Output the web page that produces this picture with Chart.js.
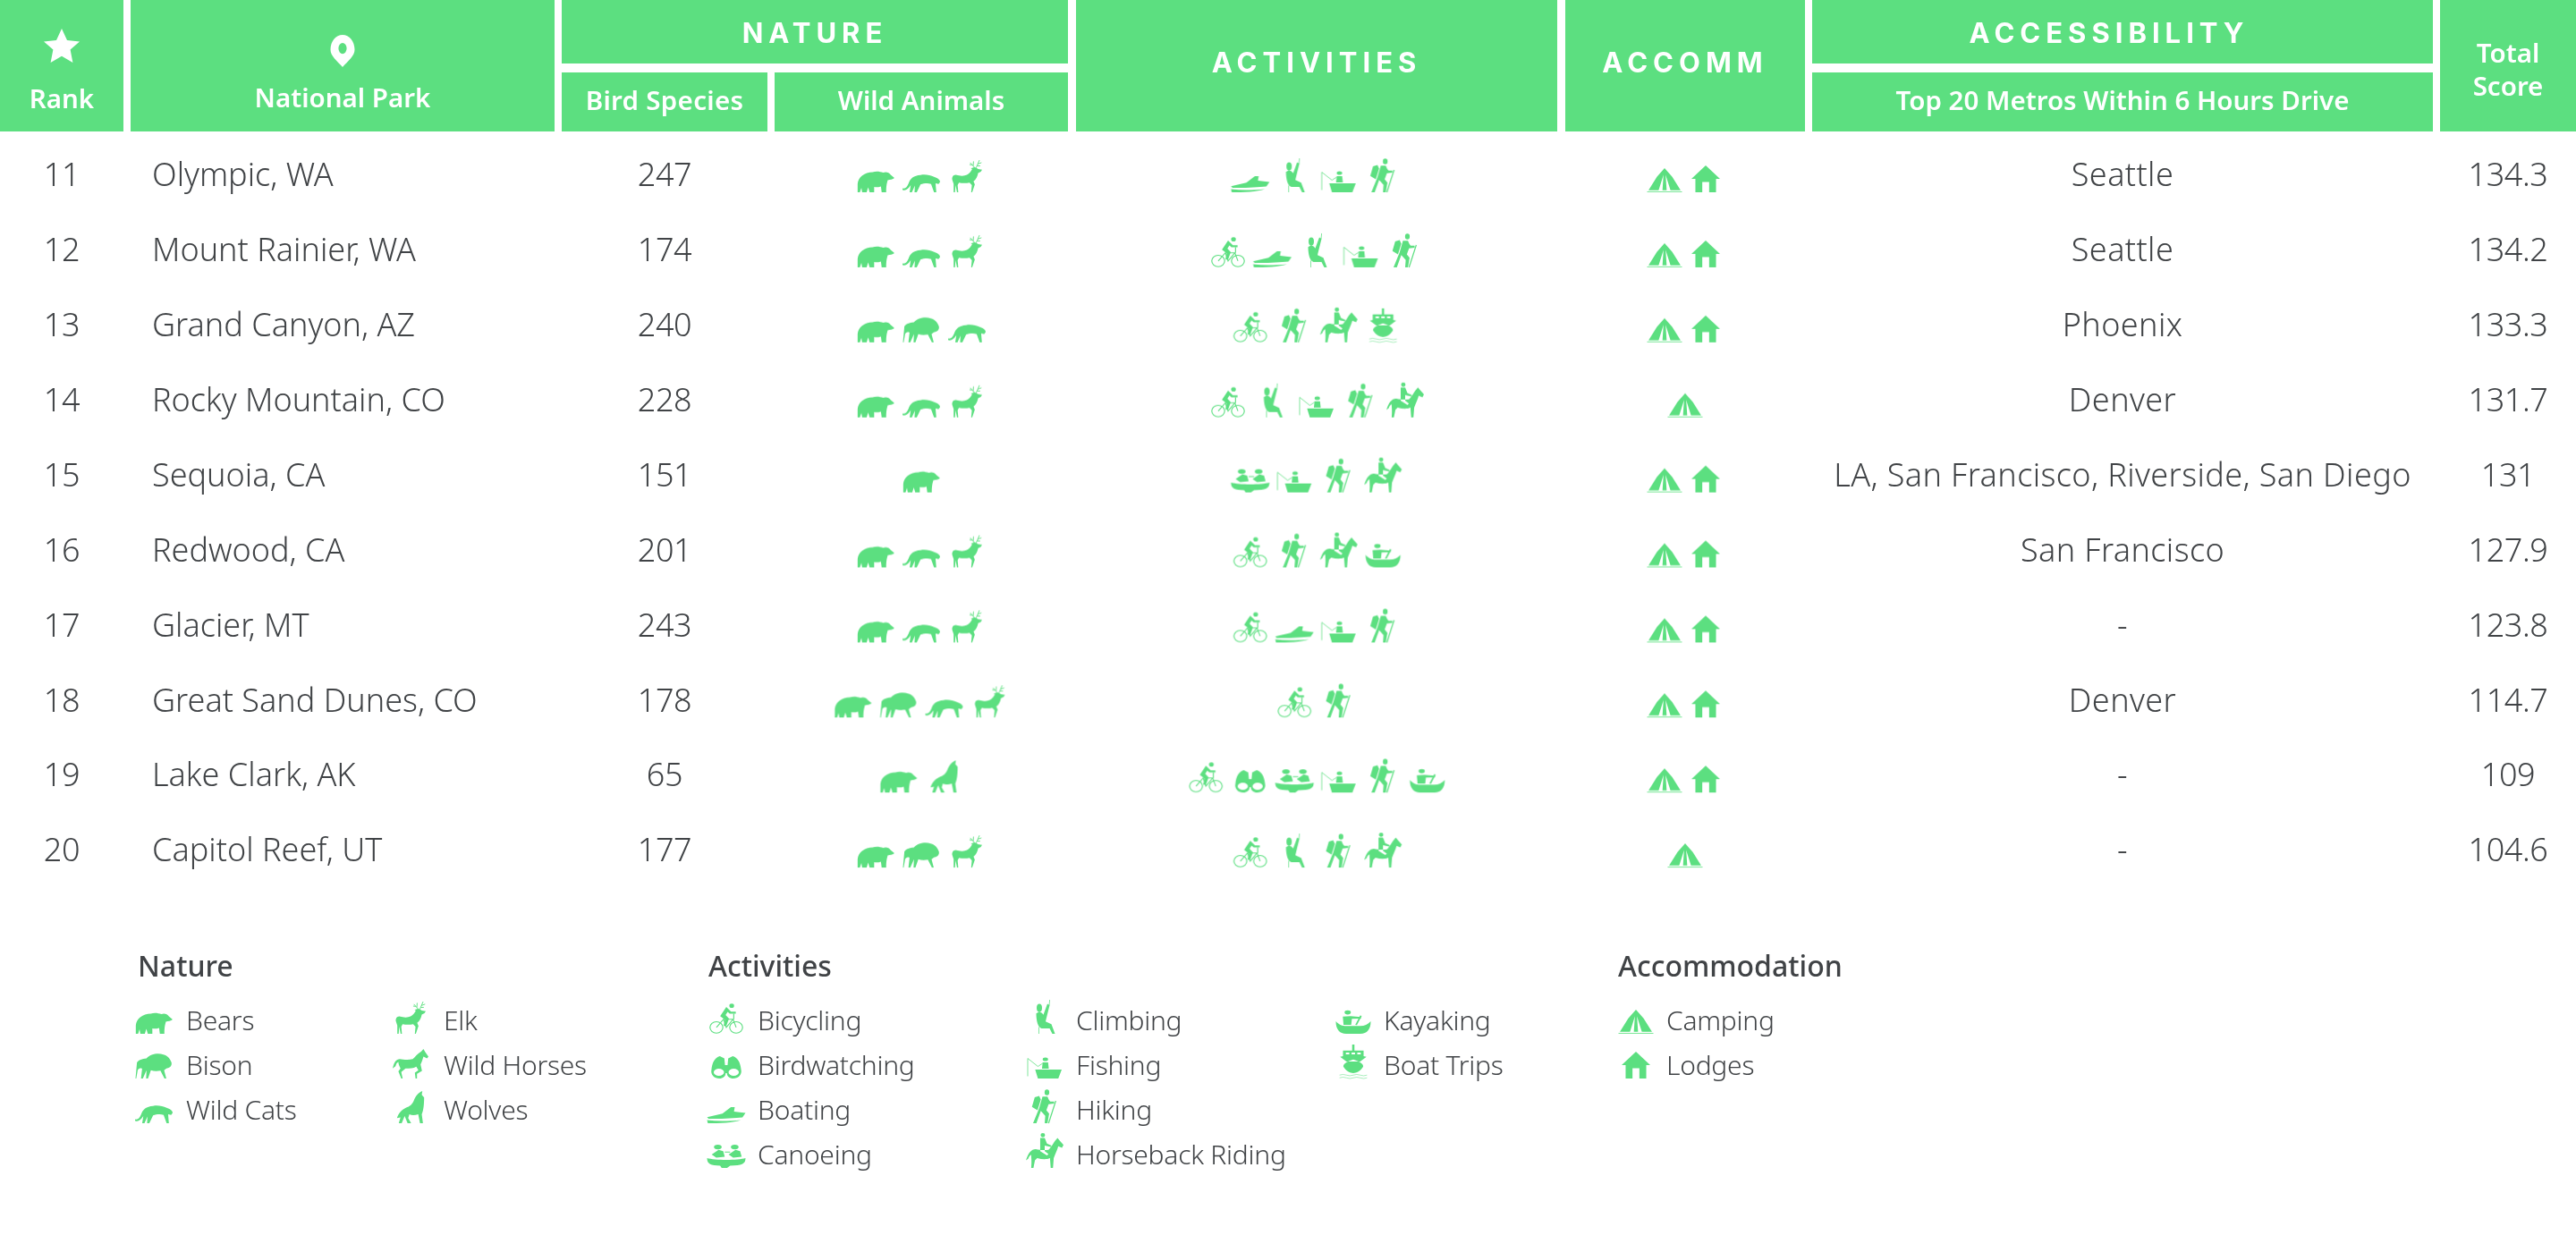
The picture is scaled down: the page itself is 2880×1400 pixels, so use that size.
<!DOCTYPE html>
<html>
<head>
<meta charset="utf-8">
<style>
  html, body { margin: 0; padding: 0; background: #fff; }
  canvas { display: block; }
</style>
<script src="https://cdn.jsdelivr.net/npm/chart.js@4"></script>
</head>
<body>
<canvas id="park-table" width="2880" height="1400"></canvas>
<script>
// TABLE DATA
const ranks = [11, 12, 13, 14, 15, 16, 17, 18, 19, 20];
const parks = ["Olympic, WA", "Mount Rainier, WA", "Grand Canyon, AZ", "Rocky Mountain, CO", "Sequoia, CA",
  "Redwood, CA", "Glacier, MT", "Great Sand Dunes, CO", "Lake Clark, AK", "Capitol Reef, UT"];
const birdSpecies = [247, 174, 240, 228, 151, 201, 243, 178, 65, 177];
const wildAnimals = [
  ["bears", "wildCats", "elk"],
  ["bears", "wildCats", "elk"],
  ["bears", "bison", "wildCats"],
  ["bears", "wildCats", "elk"],
  ["bears"],
  ["bears", "wildCats", "elk"],
  ["bears", "wildCats", "elk"],
  ["bears", "bison", "wildCats", "elk"],
  ["bears", "wolves"],
  ["bears", "bison", "elk"]
];
const activities = [
  ["boating", "climbing", "fishing", "hiking"],
  ["bicycling", "boating", "climbing", "fishing", "hiking"],
  ["bicycling", "hiking", "horseback", "boatTrips"],
  ["bicycling", "climbing", "fishing", "hiking", "horseback"],
  ["canoeing", "fishing", "hiking", "horseback"],
  ["bicycling", "hiking", "horseback", "kayaking"],
  ["bicycling", "boating", "fishing", "hiking"],
  ["bicycling", "hiking"],
  ["bicycling", "birdwatching", "canoeing", "fishing", "hiking", "kayaking"],
  ["bicycling", "climbing", "hiking", "horseback"]
];
const accommodation = [
  ["camping", "lodges"], ["camping", "lodges"], ["camping", "lodges"], ["camping"], ["camping", "lodges"],
  ["camping", "lodges"], ["camping", "lodges"], ["camping", "lodges"], ["camping", "lodges"], ["camping"]
];
const metros = ["Seattle", "Seattle", "Phoenix", "Denver", "LA, San Francisco, Riverside, San Diego",
  "San Francisco", "-", "Denver", "-", "-"];
const totalScores = ["134.3", "134.2", "133.3", "131.7", "131", "127.9", "123.8", "114.7", "109", "104.6"];

// legend entries, one list per column
const natureLegend1 = [["bears", "Bears"], ["bison", "Bison"], ["wildCats", "Wild Cats"]];
const natureLegend2 = [["elk", "Elk"], ["wildHorses", "Wild Horses"], ["wolves", "Wolves"]];
const activityLegend1 = [["bicycling", "Bicycling"], ["birdwatching", "Birdwatching"], ["boating", "Boating"], ["canoeing", "Canoeing"]];
const activityLegend2 = [["climbing", "Climbing"], ["fishing", "Fishing"], ["hiking", "Hiking"], ["horseback", "Horseback Riding"]];
const activityLegend3 = [["kayaking", "Kayaking"], ["boatTrips", "Boat Trips"]];
const lodgingLegend = [["camping", "Camping"], ["lodges", "Lodges"]];

// LAYOUT
const GREEN = "#5cdf80";
const DARK = "#404346";
const BODY_FONT = "300 36px 'Noto Sans'";
const LEGEND_FONT = "300 30px 'Noto Sans'";
const LEGEND_HEAD_FONT = "500 32px 'Noto Sans'";
const HEAD_FONT = "600 29.5px 'Noto Sans'";
const CAPS_FONT = "700 31px Inter";

const firstRowY = 195;
const rowStep = 83.9;
const rowY = i => firstRowY + i * rowStep;
const ICON_BOX = 64;

const headerCells = [
  [0, 138, 0, 147], [146, 620, 0, 147], [628, 1194, 0, 71], [628, 858, 81, 147], [866, 1194, 81, 147],
  [1203, 1741, 0, 147], [1750, 2018, 0, 147], [2026, 2720, 0, 71], [2026, 2720, 81, 147], [2728, 2880, 0, 147]
];

// ICONS, drawn once into small canvases and used as point styles
const dot = (x, y, r) => `M${x - r} ${y}a${r} ${r} 0 1 0 ${2 * r} 0a${r} ${r} 0 1 0 ${-2 * r} 0Z`;

const iconShapes = {
  bears: { w: 42, h: 25, fill: "M2 62C4 30 20 12 42 10C52 4 62 8 70 12C78 6 86 12 90 22L100 36C96 42 88 44 82 46C80 58 78 72 78 100L66 100L64 74C56 78 50 78 46 76L46 100L34 100L30 78L26 100L14 100L12 80L8 100L2 100Z" },
  bison: { w: 41, h: 29, fill: "M4 38C8 28 18 24 30 22C40 6 62 0 76 8C88 12 94 24 98 38C100 50 94 60 86 60C82 62 80 66 78 68L84 100L79 100L68 70C58 72 50 72 42 68L34 100L29 100L30 68L20 100L15 100L18 62C12 58 8 62 6 68L2 100L0 100Z" },
  wildCats: { w: 42, h: 22, fill: "M0 80C8 84 12 74 16 56C20 30 30 14 48 12C60 8 74 12 84 22C92 26 100 36 100 48L96 58L88 54L90 100L84 100L76 58C66 52 56 56 48 60L38 100L32 100L33 66L25 100L19 100L22 64C16 82 8 96 0 88Z" },
  elk: { w: 37, h: 36, lw: 2.5, fill: "M6 62C4 54 8 46 16 46C30 50 42 50 50 46C58 42 62 36 66 28L62 26L72 22C76 22 80 24 84 28L96 30L92 36L84 40C82 50 78 60 70 66L74 76L66 100L63 100L65 78L58 70C48 72 36 72 26 70L22 78L24 100L20 100L16 78L14 100L10 100L10 74Z",
    line: "M74 24L60 8M66 15L58 14M69 18L70 4M78 24L88 0M83 12L94 8M81 18L90 18" },
  wildHorses: { w: 40, h: 33, fill: "M100 26L92 12L86 0L80 8C70 14 62 28 56 34C44 38 30 36 20 34C10 34 4 44 0 66L8 58C10 50 12 46 16 44C16 54 20 60 22 66L16 76L24 100L28 100L24 78L36 66C48 66 58 66 66 60L72 72L62 80L64 100L68 100L68 84L82 74L78 52C82 44 84 34 86 26L96 32Z" },
  wolves: { w: 33, h: 36, fill: "M4 84C8 70 20 58 34 52C48 48 56 42 62 28C68 14 76 6 90 0L88 12L96 20C96 40 94 60 88 72L92 100L82 100L76 72C64 76 54 76 46 72L42 84L52 100L40 100L30 78L20 100L10 100L16 82Z" },
  bicycling: { w: 38, h: 34, lw: 3, fill: dot(66, 8, 7) + "M50 12L32 42L46 54L42 74L50 74L58 50L48 38L54 28L60 34L78 34L78 27L64 27Z",
    line: dot(21, 79, 19) + dot(79, 79, 19) + "M21 79L42 52L70 52L79 79M42 52L50 79L70 52M72 34L72 52" },
  birdwatching: { w: 36, h: 25, fill: "M4 60C6 30 14 6 30 0L44 10L46 40L54 40L56 10L70 0C86 6 94 30 96 60C100 84 86 100 72 100C60 100 52 90 52 76L48 76C48 90 40 100 28 100C14 100 0 84 4 60Z" + dot(27, 72, 16) + dot(73, 72, 16) },
  boating: { w: 43, h: 18, fill: "M0 62L40 40L62 0L72 0L70 28L100 36L92 64C70 70 30 74 4 72ZM0 80L2 100C30 100 70 96 88 80C60 86 30 90 0 80Z" },
  canoeing: { w: 43, h: 26, fill: "M0 58C20 68 80 68 100 58C100 84 90 90 60 90L52 100L38 100L34 90C10 90 0 84 0 58Z" + dot(28, 10, 10) + "M12 42L30 22L42 28L46 52L24 56ZM46 30L60 30L60 34L46 34Z" + dot(72, 10, 10) + "M56 42L74 22L86 28L90 52L68 56Z" },
  climbing: { w: 25, h: 38, lw: 3, fill: dot(26, 24, 12) + "M12 40C22 34 36 34 44 44L62 12L72 16L56 58L54 64L80 72L96 100L84 100L72 84L36 84C20 82 12 62 12 40Z",
    line: "M72 0L70 16M24 80L24 100" },
  fishing: { w: 38, h: 25, lw: 2.5, fill: "M22 60L100 60L90 100L30 100Z" + dot(52, 14, 8) + "M42 56L44 28L60 28L62 56Z",
    line: "M0 10L30 46L44 32M0 10L0 90" },
  hiking: { w: 31, h: 38, lw: 4, fill: dot(58, 9, 8.5) + "M14 24L30 20L36 30L24 62L4 52ZM42 22L60 22C64 30 66 34 70 36L84 36L84 42L64 44L56 62L66 72L60 100L50 100L52 78L36 64L20 100L8 100L30 56Z",
    line: "M90 34L64 100" },
  horseback: { w: 42, h: 39, fill: "M100 34L90 22L84 14L78 22C72 30 66 44 60 48C48 50 36 48 26 46C14 46 6 58 0 78L6 74C8 68 10 64 14 62C14 72 16 80 14 100L20 100L24 78L30 72C44 76 56 76 64 72L66 100L72 100L74 72C78 60 84 48 86 38L96 42Z" + dot(45, 6, 6) + "M38 14L50 14L56 30L68 36L66 40L50 36L50 52L60 60L56 64L38 52Z" },
  kayaking: { w: 39, h: 26, lw: 5, fill: dot(34, 8, 9) + "M0 46C10 62 18 66 30 66L70 66C82 66 92 60 100 46C100 80 90 100 70 100L30 100C10 100 0 80 0 46ZM20 26L42 24L72 28L72 35L46 36L44 62L22 62Z",
    line: "M72 22L58 62" },
  boatTrips: { w: 32, h: 38, lw: 1.5, fill: "M46 0h8v18h-8ZM14 18H86V34L96 36L74 50H26L4 36L14 34ZM24 24h12v5h-12ZM44 24h12v5h-12ZM64 24h12v5h-12ZM50 44C76 50 88 60 84 66C76 78 60 84 50 84C40 84 24 78 16 66C12 60 24 50 50 44Z",
    line: "M2 90q12 -4 24 0t24 0t24 0t24 0M2 98q12 -4 24 0t24 0t24 0t24 0" },
  camping: { w: 39, h: 27, lw: 2.5, fill: "M50 0L72 36L96 92L4 92L28 36ZM47 28L44 92L33 92ZM53 28L56 92L67 92Z",
    line: "M0 98H100" },
  lodges: { w: 32, h: 30, fill: "M50 0L100 50L86 50L86 100L62 100L62 62L38 62L38 100L14 100L14 50L0 50Z" },
  star: { w: 40, h: 38, color: "#fff", fill: "M50 0L65 34L100 38L74 62L81 100L50 81L19 100L26 62L0 38L35 34Z" },
  pin: { w: 27, h: 36, color: "#fff", fill: "M50 0C78 0 100 20 100 46C100 66 72 82 50 100C28 82 0 66 0 46C0 20 22 0 50 0Z" + dot(50, 42, 17) }
};

const iconCanvases = {};
Object.keys(iconShapes).forEach(name => {
  const shape = iconShapes[name];
  const c = document.createElement("canvas");
  c.width = ICON_BOX;
  c.height = ICON_BOX;
  const g = c.getContext("2d");
  // bottom aligned so every icon in a row stands on the same line
  g.translate((ICON_BOX - shape.w) / 2, ICON_BOX - shape.h - 2);
  g.scale(shape.w / 100, shape.h / 100);
  g.fillStyle = shape.color || GREEN;
  g.strokeStyle = shape.color || GREEN;
  g.fill(new Path2D(shape.fill), "evenodd");
  if (shape.line) {
    g.lineWidth = shape.lw;
    g.stroke(new Path2D(shape.line));
  }
  iconCanvases[name] = c;
});

// row of icons centred on a column
function iconRow(lists, centerX, spacing) {
  const points = [];
  lists.forEach((list, row) => {
    list.forEach((icon, i) => {
      points.push({ x: centerX + (i - (list.length - 1) / 2) * spacing, y: rowY(row) + 20 - ICON_BOX / 2 + 2, icon });
    });
  });
  return points;
}

function legendColumn(entries, iconX, firstY) {
  return entries.map((entry, i) => ({ x: iconX, y: firstY + i * 50 + 15 - ICON_BOX / 2 + 2, icon: entry[0] }));
}

const legendColumns = [
  [natureLegend1, 172, 208], [natureLegend2, 459, 496],
  [activityLegend1, 812, 847], [activityLegend2, 1168, 1203], [activityLegend3, 1513, 1547],
  [lodgingLegend, 1829, 1863]
];
const legendFirstY = 1141;

function iconDataset(points) {
  return {
    data: points,
    pointStyle: ctx => iconCanvases[ctx.raw.icon],
    pointRadius: 5,
    showLine: false
  };
}

// header boxes go under the points
const headerBoxes = {
  id: "headerBoxes",
  beforeDatasetsDraw(chart) {
    const { ctx, scales: { x, y } } = chart;
    ctx.save();
    ctx.fillStyle = GREEN;
    headerCells.forEach(([x0, x1, y0, y1]) => {
      const left = x.getPixelForValue(x0);
      const top = y.getPixelForValue(y0);
      ctx.fillRect(left, top, x.getPixelForValue(x1) - left, y.getPixelForValue(y1) - top);
    });
    ctx.restore();
  }
};

const tableText = {
  id: "tableText",
  afterDatasetsDraw(chart) {
    const { ctx, scales: { x, y } } = chart;
    const put = (text, px, py, font, color, align, spacing) => {
      ctx.font = font;
      ctx.fillStyle = color;
      ctx.textAlign = align || "center";
      ctx.letterSpacing = spacing || "0px";
      ctx.fillText(text, x.getPixelForValue(px), y.getPixelForValue(py));
    };
    ctx.save();
    ctx.textBaseline = "middle";

    // header
    put("Rank", 69, 113, HEAD_FONT, "#fff");
    put("National Park", 383, 112, HEAD_FONT, "#fff");
    put("Bird Species", 743, 115, HEAD_FONT, "#fff", "center", "0.3px");
    put("Wild Animals", 1030, 115, HEAD_FONT, "#fff");
    put("Top 20 Metros Within 6 Hours Drive", 2373, 115, HEAD_FONT, "#fff");
    put("Total", 2804, 62, HEAD_FONT, "#fff");
    put("Score", 2804, 99, HEAD_FONT, "#fff");
    put("NATURE", 911, 39, CAPS_FONT, "#fff", "center", "6px");
    put("ACTIVITIES", 1472, 72, CAPS_FONT, "#fff", "center", "6px");
    put("ACCOMM", 1884, 72, CAPS_FONT, "#fff", "center", "6px");
    put("ACCESSIBILITY", 2358, 39, CAPS_FONT, "#fff", "center", "6px");

    // rows
    ranks.forEach((rank, i) => {
      const ry = rowY(i) + 3;
      put(String(rank), 69, ry, BODY_FONT, DARK, "center", "-0.4px");
      put(parks[i], 170, ry, BODY_FONT, DARK, "left");
      put(String(birdSpecies[i]), 743, ry, BODY_FONT, DARK, "center", "-0.4px");
      put(metros[i], 2373, ry, BODY_FONT, DARK, "center", "0.4px");
      put(totalScores[i], 2804, ry, BODY_FONT, DARK, "center", "-0.4px");
    });

    // legend
    put("Nature", 154, 1083, LEGEND_HEAD_FONT, DARK, "left");
    put("Activities", 792, 1083, LEGEND_HEAD_FONT, DARK, "left");
    put("Accommodation", 1809, 1083, LEGEND_HEAD_FONT, DARK, "left");
    legendColumns.forEach(([entries, , textX]) => {
      entries.forEach((entry, i) => put(entry[1], textX, legendFirstY + 2 + i * 50, LEGEND_FONT, DARK, "left", "-0.25px"));
    });
    ctx.restore();
  }
};

const legendPoints = legendColumns.flatMap(([entries, iconX]) => legendColumn(entries, iconX, legendFirstY));
const headerPoints = [
  { x: 69, y: 70 - ICON_BOX + 2 + ICON_BOX / 2, icon: "star" },
  { x: 383, y: 75 - ICON_BOX + 2 + ICON_BOX / 2, icon: "pin" }
];

new Chart(document.getElementById("park-table").getContext("2d"), {
  type: "scatter",
  data: {
    datasets: [
      iconDataset(headerPoints),
      iconDataset(iconRow(wildAnimals, 1030, 51)),
      iconDataset(iconRow(activities, 1472, 49.5)),
      iconDataset(iconRow(accommodation, 1884, 46)),
      iconDataset(legendPoints)
    ]
  },
  options: {
    responsive: false,
    animation: false,
    devicePixelRatio: 1,
    events: [],
    layout: { padding: 0, autoPadding: false },
    plugins: { legend: { display: false }, tooltip: { enabled: false } },
    scales: {
      x: { type: "linear", min: 0, max: 2880, display: false },
      y: { type: "linear", min: 0, max: 1400, reverse: true, display: false }
    }
  },
  plugins: [headerBoxes, tableText]
});
</script>
</body>
</html>
